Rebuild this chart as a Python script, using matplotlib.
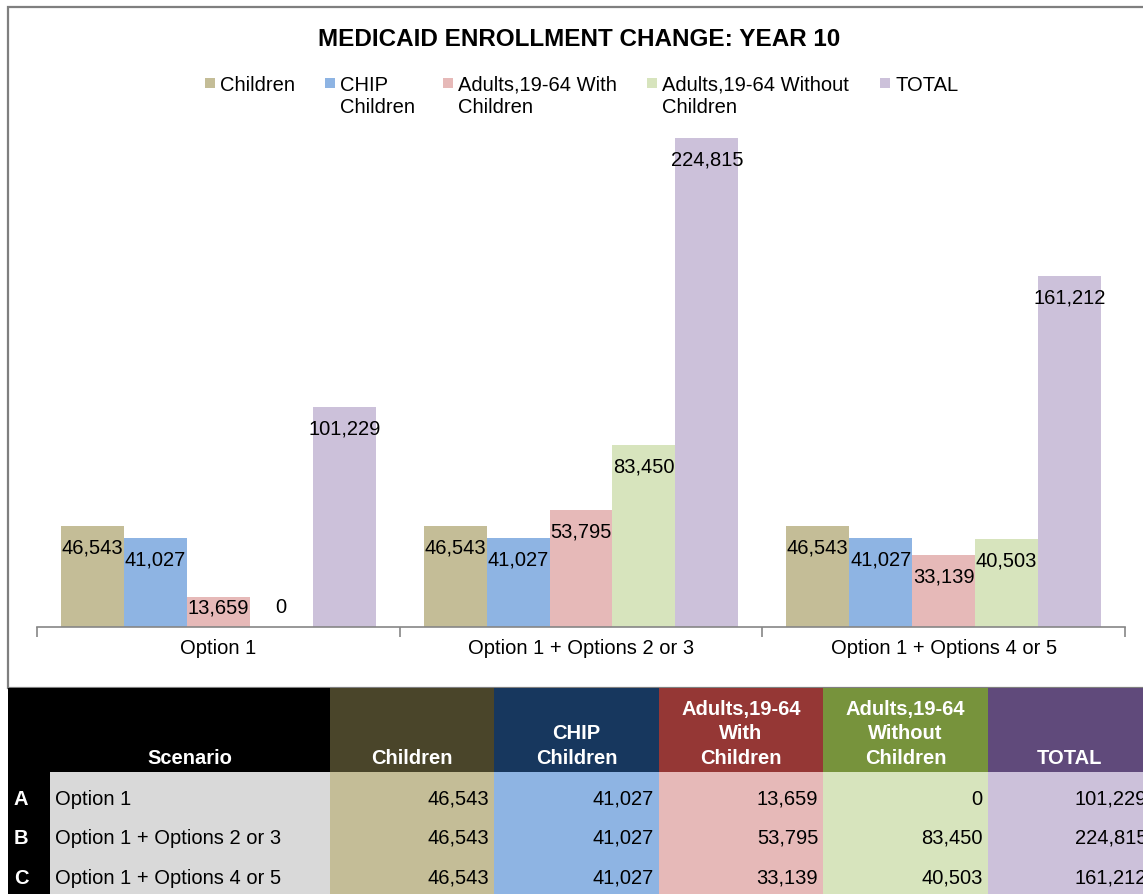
import matplotlib
matplotlib.use("Agg")
import matplotlib.pyplot as plt
from matplotlib.patches import Rectangle
import numpy as np

plt.rcParams['font.family'] = ['Liberation Sans', 'DejaVu Sans']

# ---------------- data ----------------
title = "MEDICAID ENROLLMENT CHANGE: YEAR 10"
scenarios = ["Option 1", "Option 1 + Options 2 or 3", "Option 1 + Options 4 or 5"]
scenario_letters = ["A", "B", "C"]
series_names = ["Children", "CHIP Children", "Adults,19-64 With Children",
                "Adults,19-64 Without Children", "TOTAL"]
legend_labels = ["Children", "CHIP\nChildren", "Adults,19-64 With\nChildren",
                 "Adults,19-64 Without\nChildren", "TOTAL"]
header_labels = ["Children", "CHIP\nChildren", "Adults,19-64\nWith\nChildren",
                 "Adults,19-64\nWithout\nChildren", "TOTAL"]
children = [46543, 46543, 46543]
chip_children = [41027, 41027, 41027]
adults_with = [13659, 53795, 33139]
adults_without = [0, 83450, 40503]
total = [101229, 224815, 161212]
series_values = [children, chip_children, adults_with, adults_without, total]

bar_colors = ["#C4BD97", "#8EB4E3", "#E6B9B8", "#D7E4BD", "#CCC1DA"]
header_colors = ["#4A452A", "#17375E", "#953735", "#77933C", "#604A7B"]

W, H = 1143, 895
fig = plt.figure(figsize=(W / 100, H / 100), dpi=100)

# overlay axes in pixel coordinates for frame, title, legend and table
ov = fig.add_axes([0, 0, 1, 1])
ov.set_xlim(0, W)
ov.set_ylim(H, 0)
ov.axis('off')

FS = 14.5

# chart frame
ov.add_patch(Rectangle((7.5, 8), W + 20, 681, facecolor='white',
                       edgecolor='#7F7F7F', linewidth=1.6, zorder=0))

ov.text(579, 39, title, ha='center', va='center', fontsize=17.5,
        fontweight='bold', color='black')

# legend
leg_x = [205, 325, 443, 647, 880]
for lx, lab, col in zip(leg_x, legend_labels, bar_colors):
    ov.add_patch(Rectangle((lx, 79), 10, 10, facecolor=col, edgecolor='none'))
    ov.text(lx + 15, 75.5, lab, ha='left', va='top', fontsize=FS,
            color='black', linespacing=1.2)

# ---------------- bar chart ----------------
base_px, top_px = 628, 130
left_px, right_px = 37, 1125
ax = fig.add_axes([left_px / W, (H - base_px) / H, (right_px - left_px) / W,
                   (base_px - top_px) / H])
ax.patch.set_alpha(0)
px_per_unit = 489 / 224815
ymax = (base_px - top_px) / px_per_unit
ax.set_ylim(0, ymax)
ax.set_xlim(-0.5, len(scenarios) - 0.5)

bw = 63 / 363
x = np.arange(len(scenarios))
for i, (vals, col) in enumerate(zip(series_values, bar_colors)):
    pos = x + (i - 2) * bw
    ax.bar(pos, vals, width=bw, color=col, edgecolor='none', zorder=2)
    for px_, v in zip(pos, vals):
        ly = max(v - 21 / px_per_unit, 20 / px_per_unit)
        ax.text(px_, ly, f"{v:,}", ha='center', va='center', fontsize=FS,
                color='black', zorder=3)

for s in ['top', 'left', 'right']:
    ax.spines[s].set_visible(False)
ax.spines['bottom'].set_color('#868686')
ax.spines['bottom'].set_linewidth(1.2)
ax.set_yticks([])
ax.set_xticks(np.arange(len(scenarios) + 1) - 0.5)
ax.set_xticklabels([])
ax.tick_params(axis='x', which='major', length=7, color='#868686', width=1.2)
ax.set_xticks(x, minor=True)
ax.set_xticklabels(scenarios, minor=True, fontsize=FS)
ax.tick_params(axis='x', which='minor', length=0, pad=8)

# ---------------- table ----------------
hdr_top, hdr_bot = 689, 773
col_edges = [330 + 164.4 * k for k in range(6)]
# black header band and letter column
ov.add_patch(Rectangle((8, hdr_top), 322, H - hdr_top + 5, facecolor='black',
                       edgecolor='none', zorder=1))
ov.add_patch(Rectangle((50, hdr_bot), 280, H - hdr_bot + 5, facecolor='#D9D9D9',
                       edgecolor='none', zorder=1))
ov.text(190, 764, "Scenario", ha='center', va='baseline', fontsize=FS,
        fontweight='bold', color='white', zorder=2)

for j in range(5):
    x0, x1 = col_edges[j], col_edges[j + 1]
    ov.add_patch(Rectangle((x0, hdr_top), x1 - x0, hdr_bot - hdr_top,
                           facecolor=header_colors[j], edgecolor='none', zorder=1))
    ov.add_patch(Rectangle((x0, hdr_bot), x1 - x0, H - hdr_bot + 5,
                           facecolor=bar_colors[j], edgecolor='none', zorder=1))
    ov.text((x0 + x1) / 2, 768, header_labels[j], ha='center', va='bottom',
            fontsize=FS, fontweight='bold', color='white', linespacing=1.38,
            zorder=2)

row_centers = [798, 837, 877]
for r, (letter, scen) in enumerate(zip(scenario_letters, scenarios)):
    yb = row_centers[r] + 7
    ov.text(21, yb, letter, ha='center', va='baseline', fontsize=FS,
            fontweight='bold', color='white', zorder=2)
    ov.text(55, yb, scen, ha='left', va='baseline', fontsize=FS,
            color='black', zorder=2)
    for j in range(5):
        ov.text(col_edges[j + 1] - 5, yb, f"{series_values[j][r]:,}",
                ha='right', va='baseline', fontsize=FS, color='black', zorder=2)

fig.savefig("out.png", dpi=100)
